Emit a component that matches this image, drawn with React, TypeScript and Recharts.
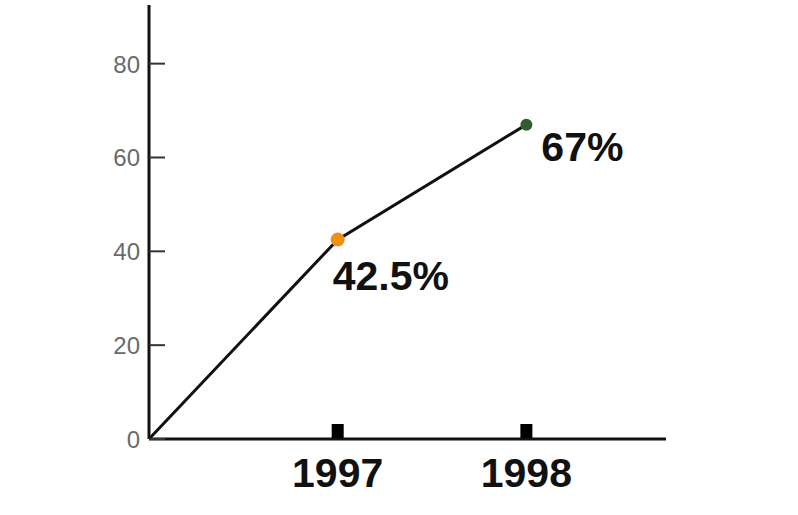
import React from 'react';
import { LineChart, Line, XAxis, YAxis, LabelList } from 'recharts';

const years = [1996, 1997, 1998];
const shares = [0, 42.5, 67];
const pointLabels = ['', '42.5%', '67%'];
const pointColors = ['none', '#f0900c', '#2f5f2f'];
const yTicks = [0, 20, 40, 60, 80];
const xTicks = [1997, 1998];

const data = years.map((year, i) => ({
    year,
    share: shares[i],
    label: pointLabels[i],
    color: pointColors[i],
}));

const FONT = '"Liberation Sans", Arial, Helvetica, sans-serif';

// y ticks: short tick pointing into the plot, grey number on the left
const YTick = (props: any) => {
    const { x, y, payload } = props;
    return (
        <g>
            <line x1={x} x2={x + 16} y1={y} y2={y} stroke="#333" strokeWidth={2} />
            <text x={x - 9} y={y} dy={9} textAnchor="end" fill="#6a6a6a" fontSize={24} fontFamily={FONT}>
                {payload.value}
            </text>
        </g>
    );
};

// x ticks: small black block sitting on the axis, big bold year below
const XTick = (props: any) => {
    const { x, y, payload } = props;
    return (
        <g>
            <rect x={x - 6} y={y - 15} width={12} height={14} fill="#000" />
            <text x={x} y={y} dy={48} textAnchor="middle" fill="#111" fontSize={41} fontWeight="bold" fontFamily={FONT}>
                {payload.value}
            </text>
        </g>
    );
};

const Dot = (props: any) => {
    const { cx, cy, payload, index } = props;
    if (!payload.label) return <g key={index} />;
    const r = index === 1 ? 7 : 6;
    return <circle key={index} cx={cx} cy={cy} r={r} fill={payload.color} />;
};

const PointLabel = (props: any) => {
    const { x, y, value, index } = props;
    if (!value) return null;
    const dx = index === 1 ? -5 : 15;
    const dy = index === 1 ? 50 : 36;
    return (
        <text x={x + dx} y={y + dy} fill="#111" fontSize={41} fontWeight="bold" fontFamily={FONT}>
            {value}
        </text>
    );
};

export default function App() {
    return (
        <div style={{ position: 'absolute', left: 0, top: 0, width: 798, height: 515, background: '#fff' }}>
            <LineChart width={798} height={515} data={data} margin={{ top: 5, right: 132, left: 0, bottom: 0 }}>
                <XAxis
                    dataKey="year"
                    type="number"
                    domain={[1996, 1998.74]}
                    ticks={xTicks}
                    height={76}
                    axisLine={{ stroke: '#111', strokeWidth: 3 }}
                    tickLine={false}
                    tickSize={0}
                    tickMargin={0}
                    tick={<XTick />}
                />
                <YAxis
                    dataKey="share"
                    type="number"
                    domain={[0, 92.5]}
                    ticks={yTicks}
                    width={149}
                    axisLine={{ stroke: '#111', strokeWidth: 3 }}
                    tickLine={false}
                    tickSize={0}
                    tickMargin={0}
                    tick={<YTick />}
                    interval={0}
                />
                <Line
                    type="linear"
                    dataKey="share"
                    stroke="#111"
                    strokeWidth={3}
                    dot={<Dot />}
                    activeDot={false}
                    isAnimationActive={false}
                >
                    <LabelList dataKey="label" content={<PointLabel />} />
                </Line>
            </LineChart>
        </div>
    );
}
